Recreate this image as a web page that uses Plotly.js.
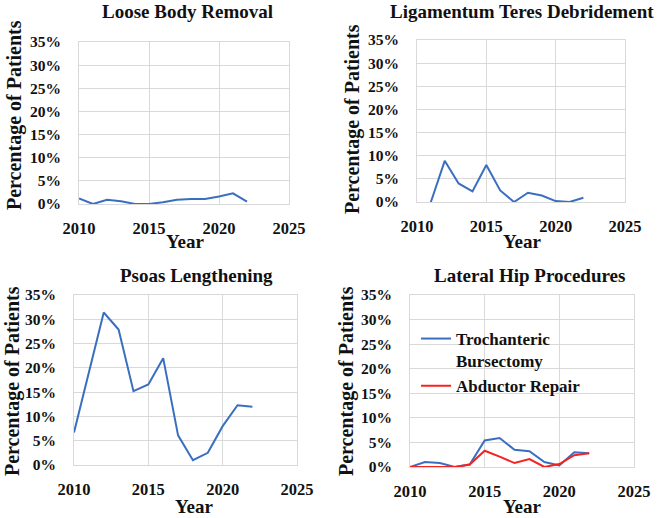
<!DOCTYPE html>
<html><head><meta charset="utf-8">
<script src="https://cdn.plot.ly/plotly-3.0.1.min.js"></script>
<style>body{margin:0;background:#fff}</style>
</head><body>
<div id="c"></div>
<script>
const years = [2010,2011,2012,2013,2014,2015,2016,2017,2018,2019,2020,2021,2022];
const looseBody = [1.2,0.0,0.9,0.6,0.0,0.0,0.4,0.9,1.1,1.1,1.6,2.3,0.5];
const ligYears = [2011,2012,2013,2014,2015,2016,2017,2018,2019,2020,2021,2022];
const ligTeres = [0.0,8.9,4.0,2.3,8.0,2.5,0.0,2.0,1.4,0.2,0.0,0.9];
const psoas = [6.7,19.3,31.4,27.9,15.2,16.6,22.0,6.1,1.0,2.5,8.0,12.3,12.0];
const trochanteric = [0.0,1.0,0.8,0.0,0.5,5.4,5.9,3.5,3.2,1.0,0.3,3.0,2.8];
const abductor = [0.0,0.0,0.0,0.0,0.5,3.3,2.1,0.8,1.6,0.0,0.6,2.4,2.8];
const titles = ["Loose Body Removal","Ligamentum Teres Debridement","Psoas Lengthening","Lateral Hip Procedures"];
const xTicks = [2010,2015,2020,2025];
const yTicks = [0,5,10,15,20,25,30,35];
const yTickText = yTicks.map(v => v + "%");

const W = 657, H = 518;
const FF = "Liberation Serif";
const BLUE = "#3a6fc0", RED = "#f52222";
const boxes = [ // left, right, top, bottom in px
  [79,289,42,204],[417,625,40,202],[74,297,295,465],[410,634,295,467]
];
const px = x => x / W, py = y => 1 - y / H;

const data = [
  {x: years, y: looseBody, xaxis:'x', yaxis:'y', mode:'lines', line:{color:BLUE,width:2}, showlegend:false},
  {x: ligYears, y: ligTeres, xaxis:'x2', yaxis:'y2', mode:'lines', line:{color:BLUE,width:2}, showlegend:false},
  {x: years, y: psoas, xaxis:'x3', yaxis:'y3', mode:'lines', line:{color:BLUE,width:2}, showlegend:false},
  {x: years, y: trochanteric, xaxis:'x4', yaxis:'y4', mode:'lines', line:{color:BLUE,width:2}, name:'Trochanteric<br>Bursectomy'},
  {x: years, y: abductor, xaxis:'x4', yaxis:'y4', mode:'lines', line:{color:RED,width:2}, name:'Abductor Repair'}
];
const layout = {
  width: W, height: H, margin:{l:0,r:0,t:0,b:0},
  paper_bgcolor:'#fff', plot_bgcolor:'#fff',
  font:{family:FF, color:'#111'},
  showlegend:true,
  legend:{x:px(416), y:py(321), xanchor:'left', yanchor:'top', bgcolor:'rgba(0,0,0,0)', valign:'top',
    font:{family:FF, size:17, color:'#111', weight:'bold'}, itemwidth:30},
  annotations:[], hovermode:false
};
const titlePos = [[187,12],[522,12],[196,275],[529,275]];
const ytPos = [[14,115],[353,119],[12,381],[346,381]];
const yearPos = [[185,242],[522,241],[194,506],[522,506]];
boxes.forEach((b,i) => {
  const s = i === 0 ? '' : String(i+1);
  layout['xaxis'+s] = {domain:[px(b[0]),px(b[1])], anchor:'y'+s, range:[2010,2025],
    tickvals:xTicks, showgrid:true, gridcolor:'#d9d9d9', gridwidth:1,
    showline:true, linecolor:'#d9d9d9', mirror:true, zeroline:false, ticks:'', ticklabelstandoff:9,
    tickfont:{family:FF,size:16.5,color:'#111',weight:'bold'}};
  layout['yaxis'+s] = {domain:[py(b[3]),py(b[2])], anchor:'x'+s, range:[0,35],
    tickvals:yTicks, ticktext:yTickText, showgrid:true, gridcolor:'#d9d9d9', gridwidth:1,
    showline:true, linecolor:'#d9d9d9', mirror:true, zeroline:false, ticks:'', ticklabelstandoff:14,
    tickfont:{family:FF,size:15.5,color:'#111',weight:'bold'}};
  layout.annotations.push({text:titles[i], x:px(titlePos[i][0]), y:py(titlePos[i][1]), xref:'paper', yref:'paper',
    showarrow:false, font:{family:FF,size:19,color:'#111',weight:'bold'}, xanchor:'center', yanchor:'middle'});
  layout.annotations.push({text:'Percentage of Patients', x:px(ytPos[i][0]), y:py(ytPos[i][1]), xref:'paper', yref:'paper',
    showarrow:false, textangle:-90, font:{family:FF,size:20,color:'#111',weight:'bold'}, xanchor:'center', yanchor:'middle'});
  layout.annotations.push({text:'Year', x:px(yearPos[i][0]), y:py(yearPos[i][1]), xref:'paper', yref:'paper',
    showarrow:false, font:{family:FF,size:19,color:'#111',weight:'bold'}, xanchor:'center', yanchor:'middle'});
});
Plotly.newPlot('c', data, layout, {displayModeBar:false});
</script></body></html>
